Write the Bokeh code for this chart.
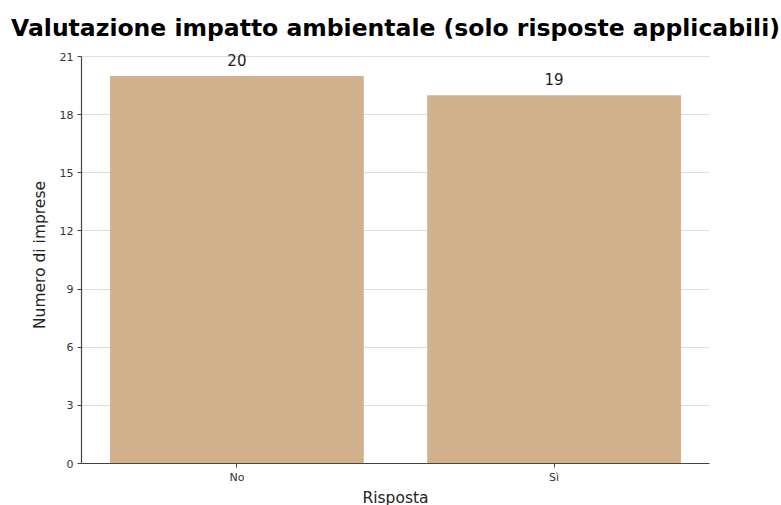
from bokeh.plotting import figure
from bokeh.models import Range1d, FixedTicker, ColumnDataSource, LabelSet
from bokeh.core.properties import value
from bokeh.embed import file_html
from bokeh.resources import INLINE

# Risposte e numero di imprese
categories = ["No", "Sì"]
counts = [20, 19]
y_ticks = [0, 3, 6, 9, 12, 15, 18, 21]
title_text = "Valutazione impatto ambientale (solo risposte applicabili)"

y_max = y_ticks[-1]
# a little headroom above the last tick keeps the value labels unclipped
y_top = y_max * 417 / 407

xs = list(range(len(categories)))
source = ColumnDataSource(data=dict(x=xs, y=counts, label=[str(c) for c in counts]))

p = figure(
    frame_width=628, frame_height=417,
    x_range=Range1d(-0.49, len(categories) - 1 + 0.49),
    y_range=Range1d(0, y_top),
    output_backend="svg", toolbar_location=None,
    min_border_left=81, min_border_right=72, min_border_top=46, min_border_bottom=42,
)

p.title.text = title_text
p.title.text_font = "DejaVu Sans"
p.title.text_font_size = "23.5px"
p.title.text_font_style = "bold"
p.title.align = "center"
p.title.text_color = "#000000"
p.title.standoff = 9

p.vbar(x="x", top="y", width=0.8, source=source, fill_color="#D1B18B", line_color=None)

labels = LabelSet(x="x", y="y", text="label", source=source, text_align="center",
                  text_baseline="bottom", y_offset=10, text_font_size="15px",
                  text_font=value("DejaVu Sans"), text_color="#222222")
p.add_layout(labels)

p.xaxis.ticker = FixedTicker(ticks=xs)
p.xaxis.major_label_overrides = {i: c for i, c in enumerate(categories)}
p.yaxis.ticker = FixedTicker(ticks=y_ticks)
p.yaxis.bounds = (0, y_max)

p.xaxis.axis_label = "Risposta"
p.yaxis.axis_label = "Numero di imprese"
for ax in (p.xaxis, p.yaxis):
    ax.axis_label_text_font = "DejaVu Sans"
    ax.axis_label_text_font_size = "15.5px"
    ax.axis_label_text_font_style = "normal"
    ax.axis_label_text_color = "#222222"
    ax.major_label_text_font = "DejaVu Sans"
    ax.major_label_text_font_size = "11px"
    ax.major_label_text_color = "#333333"
    ax.axis_line_color = "#444444"
    ax.axis_line_width = 1.2
    ax.major_tick_line_color = "#444444"
    ax.major_tick_out = 4
    ax.major_tick_in = 0
    ax.minor_tick_line_color = None

p.xaxis.major_label_standoff = 3
p.xaxis.axis_label_standoff = 2
p.yaxis.major_label_standoff = 4
p.yaxis.axis_label_standoff = 8

p.xgrid.grid_line_color = None
p.ygrid.grid_line_color = "#dddddd"
p.ygrid.grid_line_width = 1
p.outline_line_color = None

open("out.html", "w").write(file_html(p, INLINE))
